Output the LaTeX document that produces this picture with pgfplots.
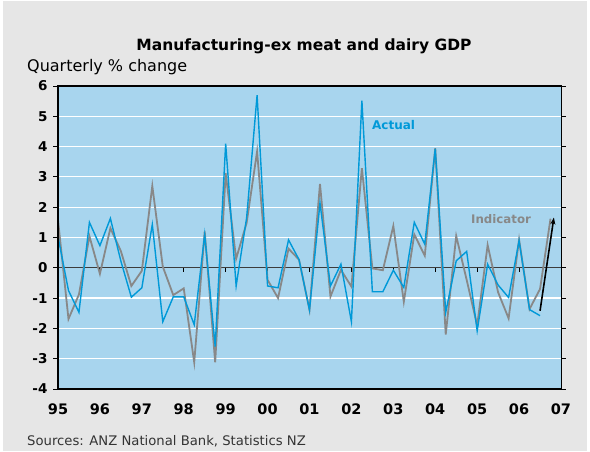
\documentclass[border=0pt]{standalone}
\usepackage{pgfplots}
\pgfplotsset{compat=1.18}
\usepackage{pgfplotstable}
\usepackage{fontspec}
\setmainfont{DejaVu Sans}
\usetikzlibrary{arrows.meta}
\definecolor{bgray}{RGB}{230,230,230}
\definecolor{plotbg}{RGB}{168,213,238}
\definecolor{actual}{RGB}{0,153,216}
\definecolor{indic}{RGB}{136,136,136}
\definecolor{zeroc}{RGB}{60,60,60}

\pgfplotstableread{
i v
0 1.03
1 -0.75
2 -1.47
3 1.50
4 0.73
5 1.63
6 0.22
7 -0.97
8 -0.66
9 1.43
10 -1.78
11 -0.96
12 -0.96
13 -1.88
14 1.10
15 -2.60
16 4.10
17 -0.60
18 1.65
19 5.70
20 -0.60
21 -0.66
22 0.92
23 0.27
24 -1.39
25 2.14
26 -0.60
27 0.12
28 -1.78
29 5.52
30 -0.79
31 -0.79
32 -0.08
33 -0.65
34 1.50
35 0.78
36 3.93
37 -1.47
38 0.23
39 0.54
40 -2.08
41 0.12
42 -0.57
43 -0.98
44 0.90
45 -1.38
46 -1.58
}\actualdata

\pgfplotstableread{
i v
0 1.58
1 -1.69
2 -0.88
3 1.04
4 -0.20
5 1.31
6 0.55
7 -0.60
8 -0.10
9 2.70
10 0.04
11 -0.90
12 -0.68
13 -3.12
14 1.20
15 -3.12
16 3.12
17 0.30
18 1.48
19 3.84
20 -0.40
21 -1.00
22 0.63
23 0.27
24 -1.39
25 2.77
26 -0.95
27 -0.07
28 -0.62
29 3.29
30 -0.02
31 -0.08
32 1.38
33 -1.12
34 1.10
35 0.40
36 3.95
37 -2.20
38 1.05
39 -0.40
40 -1.90
41 0.75
42 -0.81
43 -1.67
44 0.93
45 -1.36
46 -0.70
47 1.62
}\indicdata

\begin{document}
\begin{tikzpicture}[x=1pt,y=1pt]
\fill[white] (0,0) rectangle (590,452);
\fill[bgray] (3,1) rectangle (587,451);
\begin{axis}[
  at={(58pt,63pt)}, anchor=south west,
  scale only axis, width=503pt, height=303pt,
  xmin=1995, xmax=2007, ymin=-4, ymax=6,
  axis background/.style={fill=plotbg},
  axis line style={black, line width=1pt},
  xtick={1995,...,2007},
  xticklabels={95,96,97,98,99,00,01,02,03,04,05,06,07},
  xtick style={draw=none},
  ytick={-4,...,6},
  ytick style={black, line width=0.8pt},
  tick align=outside,
  major tick length=5pt,
  ymajorgrids,
  grid style={white, line width=1.2pt},
  /pgf/number format/assume math mode=true,
  tick label style={font=\bfseries\fontsize{13.5}{14}\selectfont},
  xticklabel style={yshift=-6pt, font=\bfseries\fontsize{14.5}{15}\selectfont},
  yticklabel style={xshift=-2pt},
  clip=false,
]
\draw[zeroc, line width=1.4pt] (axis cs:1995,0) -- (axis cs:2007,0);
\pgfplotsinvokeforeach{1996,...,2006}{
  \draw[black, line width=0.9pt] (axis cs:#1,0) -- ++(0pt,-4pt);
}
\addplot[indic, line width=1.8pt, no marks] table[x expr=1995+\thisrow{i}/4, y=v] {\indicdata};
\addplot[actual, line width=1.4pt, no marks] table[x expr=1995+\thisrow{i}/4, y=v] {\actualdata};
\draw[black, line width=1.6pt, -{Stealth[length=7pt,width=5pt]}] (axis cs:2006.5,-1.42) -- (axis cs:2006.83,1.66);
\draw[black, line width=2pt] (rel axis cs:0,0) -- (rel axis cs:0,1);
\draw[black, line width=1.4pt] (rel axis cs:0,0) -- (rel axis cs:1,0);
\end{axis}
\node[font=\bfseries\fontsize{15.5}{16}\selectfont] at (304,406) {Manufacturing-ex meat and dairy GDP};
\node[anchor=west, font=\fontsize{16}{16}\selectfont, inner sep=0pt] at (27,385) {Quarterly \% change};
\node[anchor=west, font=\fontsize{13.2}{14}\selectfont, inner sep=0pt, text=black!80] at (27,11) {Sources: ANZ National Bank, Statistics NZ};
\node[anchor=west, font=\bfseries\fontsize{12}{12}\selectfont, inner sep=0pt, text=actual] at (372,327) {Actual};
\node[anchor=west, font=\bfseries\fontsize{11.8}{12}\selectfont, inner sep=0pt, text=indic] at (471,233) {Indicator};
\end{tikzpicture}
\end{document}
